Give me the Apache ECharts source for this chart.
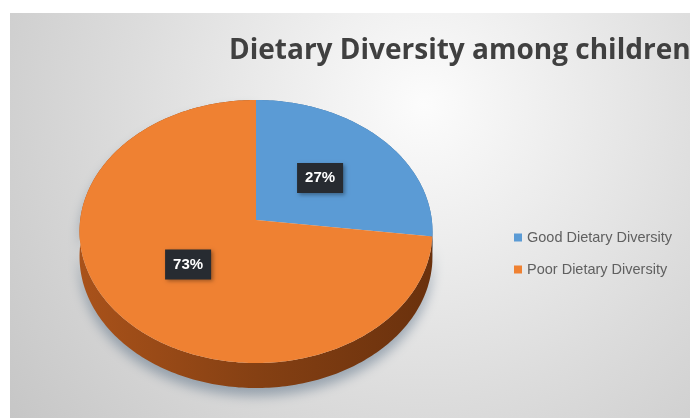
<!DOCTYPE html>
<html><head><meta charset="utf-8">
<script src="https://cdn.jsdelivr.net/npm/echarts@6/dist/echarts.min.js"></script>
<style>html,body{margin:0;padding:0;background:#fff}#c{width:690px;height:418px}</style>
</head><body><div id="c"></div>
<script>
const categories = ['Good Dietary Diversity', 'Poor Dietary Diversity'];
const values = [27, 73];
const labels = ['27%', '73%'];

const total = values.reduce((a, b) => a + b, 0);
const starts = values.map((v, i) => values.slice(0, i).reduce((a, b) => a + b, 0));

const topColors = ['#5b9bd5', '#ef8132'];
const sideFills = [
  '#3f6f9c',
  { type: 'linear', x: 80, y: 0, x2: 433, y2: 0, global: true,
    colorStops: [{ offset: 0, color: '#a9521a' }, { offset: 0.5, color: '#854013' }, { offset: 1, color: '#6a310d' }] }
];
const PIE = { cx: 256, cy: 220, B: 175.8, A: 130.5, c: -0.0875, depth: 25 };
function proj(u, v) { const d = 1 + PIE.c * v; return [PIE.cx + PIE.B * u / d, PIE.cy + PIE.A * v / d]; }

function renderSlice(i) {
  return function (params, api) {
    const v = api.value(0), s = api.value(1);
    const a0 = -Math.PI / 2 + s / total * 2 * Math.PI;
    const a1 = a0 + v / total * 2 * Math.PI;
    const n = Math.max(8, Math.ceil((a1 - a0) / (Math.PI / 180)));
    const arc = [];
    for (let k = 0; k <= n; k++) { const a = a0 + (a1 - a0) * k / n; arc.push(proj(Math.cos(a), Math.sin(a))); }
    const top = [proj(0, 0)].concat(arc);
    const low = arc.map(p => [p[0], p[1] + PIE.depth]).reverse();
    const side = arc.concat(low);
    const am = (a0 + a1) / 2;
    const lp = proj(0.5 * Math.cos(am), 0.5 * Math.sin(am));
    return {
      type: 'group', children: [
        { type: 'polygon', z2: 1, shape: { points: side },
          style: { fill: sideFills[i], shadowBlur: i === 1 ? 12 : 0, shadowOffsetY: 8, shadowColor: 'rgba(70,95,120,0.45)' } },
        { type: 'polygon', z2: 10, shape: { points: top }, style: { fill: api.visual('color') } },
        { type: 'text', z2: 20, x: lp[0], y: lp[1],
          style: { text: labels[i], fill: '#ffffff', font: 'bold 15px "Liberation Sans", Arial, sans-serif',
            align: 'center', verticalAlign: 'middle', backgroundColor: '#272b31', padding: [8, 8, 7, 8],
            shadowBlur: 4, shadowOffsetX: 2, shadowOffsetY: 2, shadowColor: 'rgba(0,0,0,0.35)' } }
      ]
    };
  };
}

const chart = echarts.init(document.getElementById('c'));
chart.setOption({
  animation: false,
  backgroundColor: '#ffffff',
  title: {
    text: 'Dietary Diversity among children', left: 229, top: 37, padding: 0,
    textStyle: { fontFamily: '"Open Sans", sans-serif', fontWeight: 'bold', fontSize: 28, color: '#404040' }
  },
  legend: {
    orient: 'vertical', left: 509, top: 225, itemWidth: 8, itemHeight: 8, itemGap: 17, icon: 'rect',
    data: categories,
    textStyle: { fontFamily: '"Liberation Sans", Arial, sans-serif', fontSize: 14.5, lineHeight: 15, color: '#606060' }
  },
  graphic: [{
    type: 'rect', z: -10, silent: true, shape: { x: 10, y: 13, width: 690, height: 415 },
    style: { fill: { type: 'radial', x: 0.6, y: 0.22, r: 1.3,
      colorStops: [{ offset: 0, color: '#fcfcfc' }, { offset: 0.55, color: '#dcdcdc' }, { offset: 1, color: '#c4c4c4' }] } }
  }],
  series: categories.map((name, i) => ({
    type: 'custom', name: name, coordinateSystem: 'none',
    itemStyle: { color: topColors[i] },
    renderItem: renderSlice(i),
    data: [[values[i], starts[i]]]
  }))
});
</script></body></html>
